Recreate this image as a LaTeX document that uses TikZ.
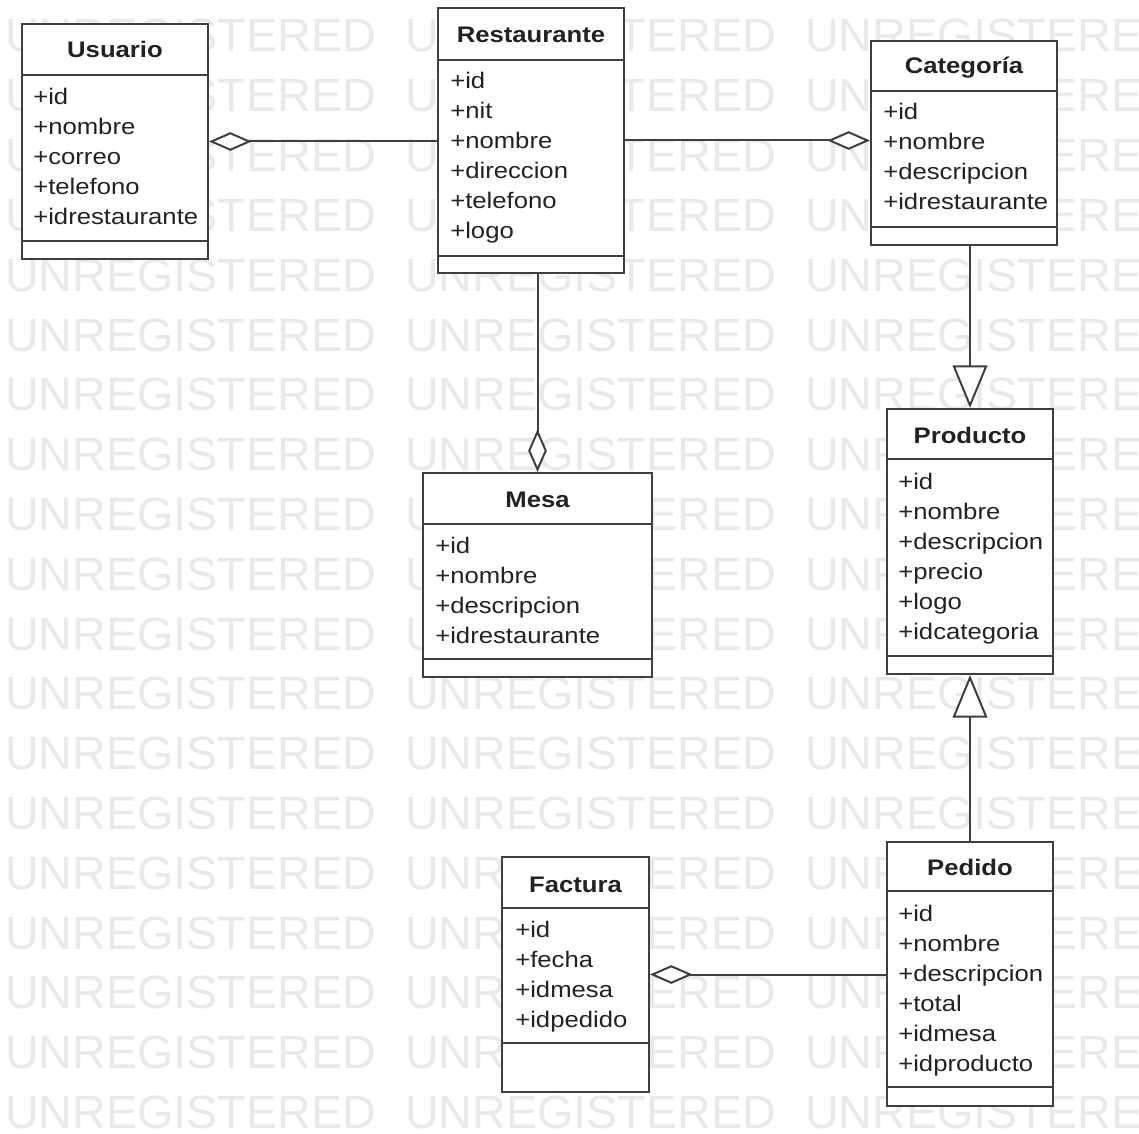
\documentclass[tikz,border=0pt]{standalone}
\usepackage{fontspec}
\setmainfont{Liberation Sans}[FakeStretch=1.14]
\newfontfamily\wmfont{Liberation Sans}
\usetikzlibrary{arrows.meta,fit}
\definecolor{linec}{HTML}{3F3F3F}
\definecolor{textc}{HTML}{222222}
\definecolor{wmc}{HTML}{E9E9E9}
\tikzset{
 classbox/.style={draw=linec, line width=1.5pt, fill=white, inner sep=0pt},
 sepline/.style={draw=linec, line width=1.5pt},
 ctitle/.style={anchor=base, inner sep=0pt, font=\fontsize{16.9}{20}\selectfont\bfseries, text=textc},
 cattr/.style={anchor=base west, inner sep=0pt, font=\fontsize{16.9}{20}\selectfont, text=textc},
 wm/.style={anchor=base west, inner sep=0pt, font=\wmfont\fontsize{35}{40}\selectfont, text=wmc},
 conn/.style={draw=linec, line width=1.5pt},
 agg/.style={conn, {Diamond[length=32pt,width=14pt,fill=white]}-},
 gen/.style={conn, -{Triangle[length=32pt,width=26pt,fill=white]}},
}
\begin{document}
\begin{tikzpicture}[x=0.75pt,y=-0.75pt]
\useasboundingbox (0,0) rectangle (1139,1134);
\fill[white] (0,0) rectangle (1139,1134);
% watermark
\begin{scope}
\clip (0,0) rectangle (1139,1134);
\foreach \r in {0,...,18}{
  \foreach \c in {0,1,2}{
    \node[wm] (wm-\r-\c) at (5+400*\c, 52+59.8*\r) {UNREGISTERED};
  }
}
\end{scope}

% Usuario
\node[classbox, fit={(22,24) (208,259)}] (usuario) {};
\draw[sepline] (22,75) -- (208,75);
\draw[sepline] (22,241) -- (208,241);
\node[ctitle] (usuario-t) at (115,58) {Usuario};
\foreach \t [count=\i from 0] in {+id,+nombre,+correo,+telefono,+idrestaurante}
  \node[cattr] (usuario-a\i) at (33,105+30*\i) {\t};

% Restaurante
\node[classbox, fit={(438,8) (624,273)}] (restaurante) {};
\draw[sepline] (438,60) -- (624,60);
\draw[sepline] (438,256) -- (624,256);
\node[ctitle] (restaurante-t) at (531,43) {Restaurante};
\foreach \t [count=\i from 0] in {+id,+nit,+nombre,+direccion,+telefono,+logo}
  \node[cattr] (restaurante-a\i) at (450,89+30*\i) {\t};

% Categoria
\node[classbox, fit={(871,41) (1057,245)}] (categoria) {};
\draw[sepline] (871,91) -- (1057,91);
\draw[sepline] (871,227) -- (1057,227);
\node[ctitle] (categoria-t) at (964,74) {Categoría};
\foreach \t [count=\i from 0] in {+id,+nombre,+descripcion,+idrestaurante}
  \node[cattr] (categoria-a\i) at (883,120+30*\i) {\t};

% Producto
\node[classbox, fit={(887,409) (1053,674)}] (producto) {};
\draw[sepline] (887,459) -- (1053,459);
\draw[sepline] (887,656) -- (1053,656);
\node[ctitle] (producto-t) at (970,443) {Producto};
\foreach \t [count=\i from 0] in {+id,+nombre,+descripcion,+precio,+logo,+idcategoria}
  \node[cattr] (producto-a\i) at (898,489+30*\i) {\t};

% Mesa
\node[classbox, fit={(423,473) (652,677)}] (mesa) {};
\draw[sepline] (423,524) -- (652,524);
\draw[sepline] (423,659) -- (652,659);
\node[ctitle] (mesa-t) at (537.5,507) {Mesa};
\foreach \t [count=\i from 0] in {+id,+nombre,+descripcion,+idrestaurante}
  \node[cattr] (mesa-a\i) at (435,553+30*\i) {\t};

% Factura
\node[classbox, fit={(502,857) (649,1092)}] (factura) {};
\draw[sepline] (502,908) -- (649,908);
\draw[sepline] (502,1043) -- (649,1043);
\node[ctitle] (factura-t) at (575.5,892) {Factura};
\foreach \t [count=\i from 0] in {+id,+fecha,+idmesa,+idpedido}
  \node[cattr] (factura-a\i) at (515,937+30*\i) {\t};

% Pedido
\node[classbox, fit={(887,842) (1053,1106)}] (pedido) {};
\draw[sepline] (887,891) -- (1053,891);
\draw[sepline] (887,1087) -- (1053,1087);
\node[ctitle] (pedido-t) at (970,875) {Pedido};
\foreach \t [count=\i from 0] in {+id,+nombre,+descripcion,+total,+idmesa,+idproducto}
  \node[cattr] (pedido-a\i) at (898,921+30*\i) {\t};

% connectors
\draw[agg] (usuario.east) -- (usuario.east -| restaurante.west);
\draw[agg] (restaurante.east -| categoria.west) -- (restaurante.east);
\draw[agg] (mesa.north) -- (mesa.north |- restaurante.south);
\draw[gen] (categoria.south -| producto.north) -- (producto.north);
\draw[gen] (pedido.north) -- (producto.south);
\draw[agg] (factura.east) -- (factura.east -| pedido.west);
\end{tikzpicture}
\end{document}
